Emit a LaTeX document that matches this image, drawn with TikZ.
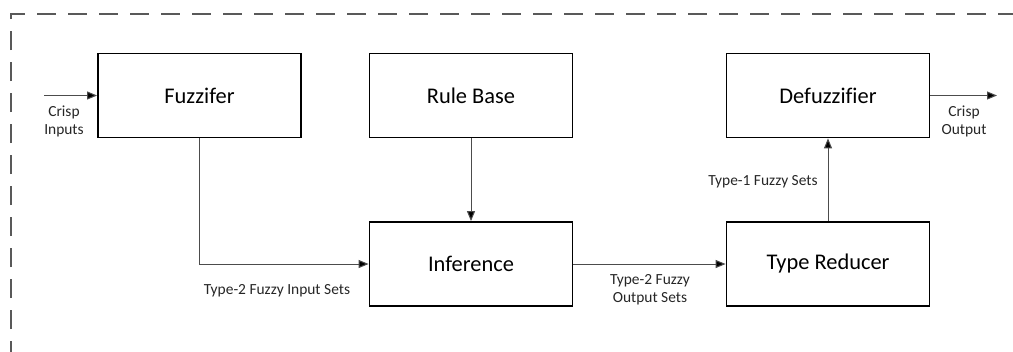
\documentclass[tikz,border=0pt]{standalone}
\usepackage{fontspec}
\setmainfont{Carlito}[Ligatures=CommonOff]
\usetikzlibrary{arrows.meta}
\begin{document}
\begin{tikzpicture}[x=1bp,y=-1bp,
  block/.style={draw=black,line width=1.8bp,minimum width=203bp,minimum height=84bp,
    inner sep=0pt,font=\fontsize{22.5}{26}\selectfont},
  flow/.style={draw=black!70,line width=1bp,-{Triangle[length=10bp,width=8bp,fill=black]}},
  lbl/.style={font=\fontsize{15.5}{18}\selectfont,align=center,inner sep=0pt,text=black!85},
  frame/.style={draw=black!65,line width=1.2bp,dash pattern=on 19bp off 12bp}]
\useasboundingbox (0,0) rectangle (1013,351);

% outer dashed frame (top and left edges)
\coordinate (fbl) at (11,360);
\coordinate (ftl) at (11,14);
\coordinate (ftr) at (1020,14);
\draw[frame] (fbl) -- (ftl) -- (ftr);

% blocks
\node[block] (fuz) at (199.5,95.5) {Fuzzifer};
\node[block] (rule) at (471,95.5) {Rule Base};
\node[block] (defuz) at (828,95.5) {Defuzzifier};
\node[block] (inf) at (471,264) {Inference};
\node[block] (tred) at (828,264) {Type Reducer};

% free ends of the input and output arrows
\coordinate (cin) at (44,95.5);
\coordinate (cout) at (997,95.5);

% connectors
\draw[flow] (cin) -- (fuz.west);
\draw[flow] (fuz.south) |- (inf.west);
\draw[flow] (rule.south) -- (inf.north);
\draw[flow] (inf.east) -- (tred.west);
\draw[flow] (tred.north) -- (defuz.south);
\draw[flow] (defuz.east) -- (cout);

% connector labels
\node[lbl] (lcin) at (64,121) {Crisp\\Inputs};
\node[lbl] (lin) at (277,291) {Type-2 Fuzzy Input Sets};
\node[lbl] (lout) at (650,290) {Type-2 Fuzzy\\Output Sets};
\node[lbl] (lt1) at (763,182) {Type-1 Fuzzy Sets};
\node[lbl] (lcout) at (964,121) {Crisp\\Output};
\end{tikzpicture}
\end{document}
